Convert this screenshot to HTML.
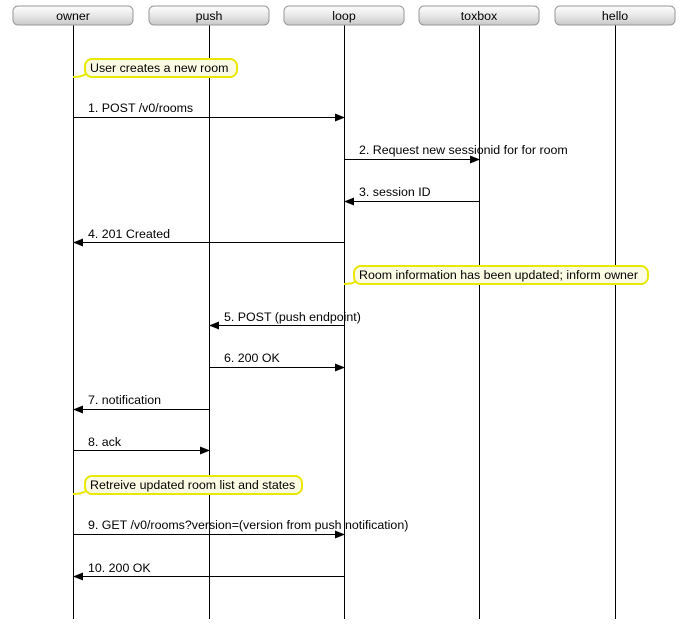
<!DOCTYPE html>
<html><head><style>
body{margin:0;background:#fff;}
svg text{font-family:"Liberation Sans",sans-serif;font-size:12.4px;fill:#000;}
</style></head><body>
<svg width="687" height="619" xmlns="http://www.w3.org/2000/svg">
<defs>
<linearGradient id="g" x1="0" y1="0" x2="0" y2="1">
<stop offset="0" stop-color="#fdfdfd"/><stop offset="0.5" stop-color="#e8e8e8"/><stop offset="1" stop-color="#c8c8c8"/>
</linearGradient>
<marker id="a" markerWidth="10" markerHeight="8" refX="9" refY="4" orient="auto" markerUnits="userSpaceOnUse">
<path d="M0,0 L10,4 L0,8 z" fill="#000"/></marker>
</defs>
<g stroke="#000" stroke-width="1">
<line x1="73.5" y1="25" x2="73.5" y2="619"/>
<line x1="209.5" y1="25" x2="209.5" y2="619"/>
<line x1="344.5" y1="25" x2="344.5" y2="619"/>
<line x1="479.5" y1="25" x2="479.5" y2="619"/>
<line x1="615.5" y1="25" x2="615.5" y2="619"/>
</g>
<g stroke="#999" stroke-width="1" fill="url(#g)">
<rect x="13" y="6" width="120" height="19" rx="5"/>
<rect x="149" y="6" width="120" height="19" rx="5"/>
<rect x="284" y="6" width="120" height="19" rx="5"/>
<rect x="419" y="6" width="120" height="19" rx="5"/>
<rect x="555" y="6" width="120" height="19" rx="5"/>
</g>
<g text-anchor="middle">
<text x="73" y="20">owner</text><text x="209" y="20">push</text><text x="344" y="20">loop</text><text x="479" y="20">toxbox</text><text x="615" y="20">hello</text>
</g>
<g stroke="#e8e800" stroke-width="2" fill="#fbfbe4">
<path d="M73,77 Q84,77 88,72" fill="none"/>
<rect x="85" y="59" width="152" height="18" rx="7"/>
<path d="M344,284 Q355,284 359,279" fill="none"/>
<rect x="354" y="266" width="294" height="18" rx="7"/>
<path d="M73,494 Q84,494 88,489" fill="none"/>
<rect x="85" y="476" width="217" height="18" rx="7"/>
</g>
<text x="90" y="72">User creates a new room</text>
<text x="359" y="279">Room information has been updated; inform owner</text>
<text x="90" y="489">Retreive updated room list and states</text>
<g stroke="#000" stroke-width="1" marker-end="url(#a)">
<line x1="73" y1="117.5" x2="344" y2="117.5"/>
<line x1="344" y1="159.5" x2="479" y2="159.5"/>
<line x1="479" y1="201.5" x2="345" y2="201.5"/>
<line x1="344" y1="242.5" x2="74" y2="242.5"/>
<line x1="344" y1="325.5" x2="210" y2="325.5"/>
<line x1="209" y1="367.5" x2="344" y2="367.5"/>
<line x1="209" y1="409.5" x2="74" y2="409.5"/>
<line x1="73" y1="450.5" x2="209" y2="450.5"/>
<line x1="73" y1="534.5" x2="344" y2="534.5"/>
<line x1="344" y1="576.5" x2="74" y2="576.5"/>
</g>
<text x="88" y="112">1. POST /v0/rooms</text>
<text x="359" y="154">2. Request new sessionid for for room</text>
<text x="359" y="196">3. session ID</text>
<text x="88" y="238">4. 201 Created</text>
<text x="224" y="321">5. POST (push endpoint)</text>
<text x="224" y="362">6. 200 OK</text>
<text x="88" y="404">7. notification</text>
<text x="88" y="446">8. ack</text>
<text x="88" y="529">9. GET /v0/rooms?version=(version from push notification)</text>
<text x="88" y="572">10. 200 OK</text>
</svg>
</body></html>
